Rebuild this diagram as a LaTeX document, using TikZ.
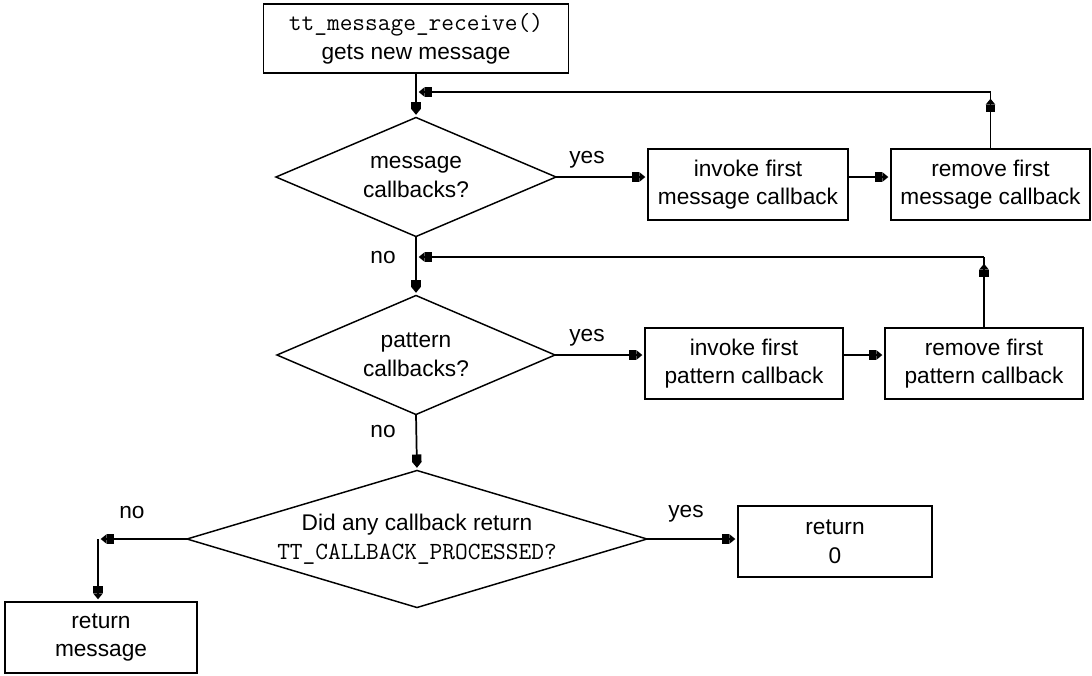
\documentclass[tikz,border=0pt]{standalone}
\usepackage{fontspec}
\setmainfont{Liberation Sans}
\usetikzlibrary{arrows.meta,shapes.geometric,calc}

% typewriter text uses Latin Modern Mono (the fontspec default)
\newcommand{\codetext}[1]{{\fontsize{18.5}{21.5}\selectfont\ttfamily #1}}

\tikzset{
  every node/.style={font=\fontsize{17}{21.5}\selectfont, outer sep=0pt},
  box/.style={draw, line width=1.3pt, rectangle, align=center, inner sep=0pt,
              minimum height=53.25pt},
  decision/.style={draw, line width=1.1pt, diamond, align=center, inner sep=-14pt},
  lbl/.style={inner sep=0pt},
  conn/.style={line width=1.3pt},
  arr/.style={conn, -{Square[length=5.5pt,width=7pt,sep=0pt]Triangle[length=4.5pt,width=7pt]},
              shorten >=2pt},
}

\begin{document}
\begin{tikzpicture}[x=0.75pt,y=-0.75pt]
  \fill[white] (0,0) rectangle (1092,675);
  \useasboundingbox (0,0) rectangle (1092,675);

  % entry box
  \node[box, minimum width=228.75pt, minimum height=51.75pt] (start) at (416,38.5)
    {\codetext{tt\_message\_receive()}\\gets new message};

  % decisions
  \node[decision, shape aspect=2.35, minimum width=210pt, minimum height=89.25pt] (d1) at (416,177)
    {message\\callbacks?};
  \node[decision, shape aspect=2.35, minimum width=208.5pt, minimum height=89.25pt] (d2) at (416,355)
    {pattern\\callbacks?};
  \node[decision, shape aspect=3.36, minimum width=345pt, minimum height=102.75pt] (d3) at (417,539)
    {Did any callback return\\\codetext{TT\_CALLBACK\_PROCESSED?}};

  % message callback row
  \node[box, minimum width=150pt] (invmsg) at (748,184.5)
    {invoke first\\message callback};
  \node[box, minimum width=149.25pt] (rmmsg) at (990.5,184.5)
    {remove first\\message callback};

  % pattern callback row
  \node[box, minimum width=148.5pt] (invpat) at (744,363.5)
    {invoke first\\pattern callback};
  \node[box, minimum width=148.5pt] (rmpat) at (984,363.5)
    {remove first\\pattern callback};

  % results
  \node[box, minimum width=145.5pt] (ret0) at (835,541.5) {return\\0};
  \node[box, minimum width=144pt, minimum height=53.25pt] (retmsg) at (101,637.5)
    {return\\message};

  % junction points
  \coordinate (j1) at (416,92);
  \coordinate (j2) at (416,257);
  \coordinate (c1) at (rmmsg.north |- j1);
  \coordinate (c2) at (rmpat.north |- j2);
  \coordinate (corner) at (98,539);

  % main flow
  \draw[arr] (start.south) -- (d1.north);
  \draw[arr] (d1.south) -- (d2.north);
  \draw[arr] (d2.south) -- (d3.north);

  % message callbacks loop
  \draw[arr] (d1.east) -- (d1.east -| invmsg.west);
  \draw[arr] (d1.east -| invmsg.east) -- (d1.east -| rmmsg.west);
  \draw[conn] (rmmsg.north) -- (c1);
  \draw[arr, shorten >=5pt] (rmmsg.north) -- (c1);
  \draw[arr] (c1) -- (j1);

  % pattern callbacks loop
  \draw[arr] (d2.east) -- (d2.east -| invpat.west);
  \draw[arr] (d2.east -| invpat.east) -- (d2.east -| rmpat.west);
  \draw[conn] (rmpat.north) -- (c2);
  \draw[arr, shorten >=5pt] (rmpat.north) -- (c2);
  \draw[arr] (c2) -- (j2);

  % final decision
  \draw[arr] (d3.east) -- (d3.east -| ret0.west);
  \draw[arr] (d3.west) -- (corner);
  \draw[arr] (corner) -- (corner |- retmsg.north);

  % branch labels
  \node[lbl] (y1) at (587,160) {yes};
  \node[lbl] (y2) at (587,338) {yes};
  \node[lbl] (y3) at (686,514) {yes};
  \node[lbl] (n1) at (383,258) {no};
  \node[lbl] (n2) at (383,432) {no};
  \node[lbl] (n3) at (132,513) {no};
\end{tikzpicture}
\end{document}
